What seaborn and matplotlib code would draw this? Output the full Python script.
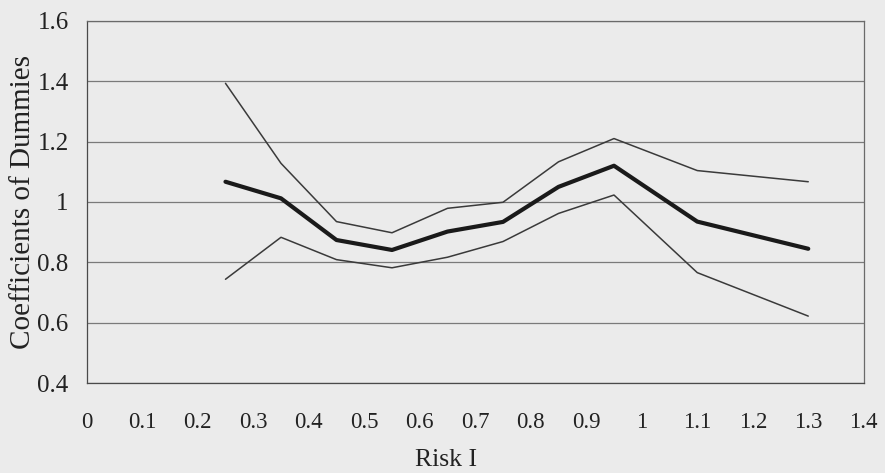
import matplotlib
matplotlib.use("Agg")
import matplotlib.pyplot as plt
import seaborn as sns
import pandas as pd

# Values
risk = [0.25, 0.35, 0.45, 0.55, 0.65, 0.75, 0.85, 0.95, 1.1, 1.3]
coef = [1.067, 1.012, 0.874, 0.841, 0.902, 0.934, 1.05, 1.12, 0.935, 0.845]
upper = [1.393, 1.128, 0.935, 0.898, 0.979, 0.999, 1.133, 1.21, 1.104, 1.067]
lower = [0.744, 0.883, 0.809, 0.782, 0.817, 0.869, 0.962, 1.023, 0.766, 0.622]

x_ticks = [0, 0.1, 0.2, 0.3, 0.4, 0.5, 0.6, 0.7, 0.8, 0.9, 1.0, 1.1, 1.2, 1.3, 1.4]
x_labels = ["0", "0.1", "0.2", "0.3", "0.4", "0.5", "0.6", "0.7", "0.8", "0.9",
            "1", "1.1", "1.2", "1.3", "1.4"]
y_ticks = [0.4, 0.6, 0.8, 1.0, 1.2, 1.4, 1.6]
y_labels = ["0.4", "0.6", "0.8", "1", "1.2", "1.4", "1.6"]

df = pd.DataFrame({"risk": risk, "coef": coef, "upper": upper, "lower": lower})

sns.set_style("white")
plt.rcParams["font.family"] = ["Liberation Serif", "DejaVu Serif"]

BG = "#ebebeb"
fig = plt.figure(figsize=(8.85, 4.73), dpi=100, facecolor=BG)
ax = fig.add_axes([0.098, 0.19, 0.878, 0.766])
ax.set_facecolor(BG)

sns.lineplot(data=df, x="risk", y="upper", ax=ax, color="#3a3a3a", linewidth=1.1)
sns.lineplot(data=df, x="risk", y="lower", ax=ax, color="#3a3a3a", linewidth=1.1)
sns.lineplot(data=df, x="risk", y="coef", ax=ax, color="#1a1a1a", linewidth=3.0)

ax.set_xlim(0, 1.4)
ax.set_ylim(0.4, 1.6)
ax.set_xticks(x_ticks)
ax.set_xticklabels(x_labels, fontsize=16.5)
ax.set_yticks(y_ticks)
ax.set_yticklabels(y_labels, fontsize=18)

ax.yaxis.grid(True, color="#7a7a7a", linewidth=0.9)
ax.xaxis.grid(False)
ax.set_axisbelow(True)

for side in ["top", "right", "bottom", "left"]:
    ax.spines[side].set_visible(True)
    ax.spines[side].set_color("#6a6a6a")
    ax.spines[side].set_linewidth(0.9)
ax.spines["left"].set_color("#4a4a4a")
ax.spines["bottom"].set_color("#4a4a4a")

ax.tick_params(axis="both", direction="out", length=5, width=0.9,
               color="#4a4a4a", labelcolor="#222222")
ax.tick_params(axis="x", pad=16)
ax.tick_params(axis="y", pad=8)

ax.set_xlabel("Risk I", fontsize=18.5, color="#222222", labelpad=11, x=0.462)
ax.set_ylabel("Coefficients of Dummies", fontsize=21, color="#222222", labelpad=1)

fig.savefig("out.png", dpi=100, facecolor=BG)
